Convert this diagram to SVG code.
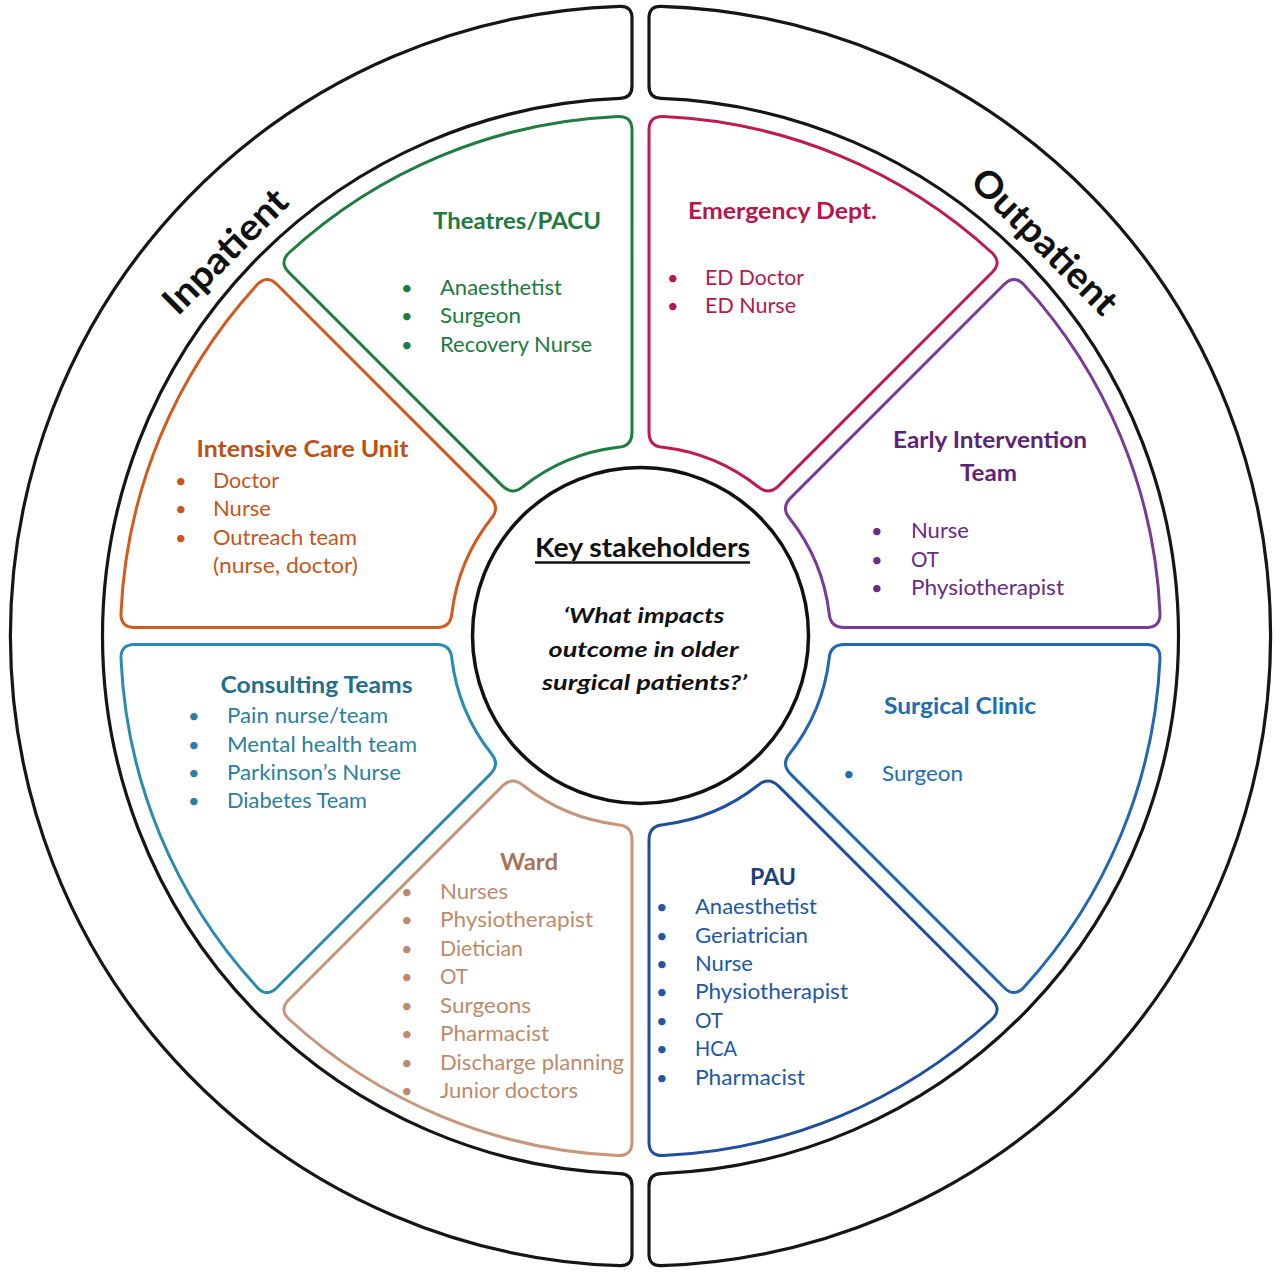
<svg xmlns="http://www.w3.org/2000/svg" xmlns:xlink="http://www.w3.org/1999/xlink" width="1280" height="1279" viewBox="0 0 1280 1279">
<style>
  text { font-family: Lato, "Liberation Sans", sans-serif; }
  .seg { fill: none; stroke-width: 3; stroke-linejoin: round; }
  .ring { fill: none; stroke: #161616; stroke-width: 3.2; }
  .ttl { font-weight: bold; font-size: 22px; text-anchor: middle; }
  .itm { font-size: 22px; }
  .bul { font-size: 20px; }
  .side { font-weight: bold; font-size: 37px; text-anchor: middle; fill: #111; }
  .key { font-weight: bold; font-size: 26px; text-anchor: middle; fill: #111; }
  .q { font-weight: bold; font-style: italic; font-size: 21.5px; text-anchor: middle; fill: #111; }
</style>
<defs>
  <path id="segshape" d="M 8.5 -505.93 Q 8.5 -519.93 22.50 -519.51 A 520 520 0 0 1 351.44 -383.26 Q 361.64 -373.66 351.74 -363.76 L 138.10 -150.13 Q 128.20 -140.23 117.53 -149.28 A 190 190 0 0 0 22.45 -188.67 Q 8.5 -189.81 8.5 -203.81 Z"/>
  <path id="halfring" d="M 8.5 -617.94 Q 8.5 -629.94 20.49 -629.67 A 630 630 0 0 1 20.49 629.67 Q 8.5 629.94 8.5 617.94 L 8.5 549.93 Q 8.5 537.93 20.49 537.61 A 538 538 0 0 0 20.49 -537.61 Q 8.5 -537.93 8.5 -549.93 Z"/>
</defs>

<g id="outer-ring">
  <g id="inpatient">
    <use xlink:href="#halfring" class="ring" transform="translate(640.5 636) rotate(180)"/>
    <text class="side" transform="translate(640.5 636) rotate(-45)" x="-21.6" y="-553" textLength="160" lengthAdjust="spacingAndGlyphs">Inpatient</text>
  </g>
  <g id="outpatient">
    <use xlink:href="#halfring" class="ring" transform="translate(640.5 636)"/>
    <text class="side" transform="translate(640.5 636) rotate(45)" x="6.7" y="-552" textLength="190" lengthAdjust="spacingAndGlyphs">Outpatient</text>
  </g>
</g>

<g id="connectors"></g>

<g id="theatres" fill="#1e7a3f">
  <use xlink:href="#segshape" class="seg" stroke="#1f7d40" transform="translate(640.5 636) rotate(315)"/>
  <text class="ttl" x="517" y="229" textLength="168" lengthAdjust="spacingAndGlyphs">Theatres/PACU</text>
  <text class="bul" x="401" y="295">•</text><text class="itm" x="440" y="295" textLength="122" lengthAdjust="spacingAndGlyphs">Anaesthetist</text>
  <text class="bul" x="401" y="323">•</text><text class="itm" x="440" y="323" textLength="81" lengthAdjust="spacingAndGlyphs">Surgeon</text>
  <text class="bul" x="401" y="352">•</text><text class="itm" x="440" y="352" textLength="152" lengthAdjust="spacingAndGlyphs">Recovery Nurse</text>
</g>

<g id="emergency" fill="#b3174d">
  <use xlink:href="#segshape" class="seg" stroke="#be1c50" transform="translate(640.5 636)"/>
  <text class="ttl" x="782.5" y="219" textLength="189" lengthAdjust="spacingAndGlyphs">Emergency Dept.</text>
  <text class="bul" x="667" y="285">•</text><text class="itm" x="705" y="285" textLength="99" lengthAdjust="spacingAndGlyphs">ED Doctor</text>
  <text class="bul" x="667" y="313">•</text><text class="itm" x="705" y="313" textLength="91" lengthAdjust="spacingAndGlyphs">ED Nurse</text>
</g>

<g id="early-intervention" fill="#6a2a85">
  <use xlink:href="#segshape" class="seg" stroke="#7a3b98" transform="translate(640.5 636) rotate(45)"/>
  <text class="ttl" x="990" y="448" fill="#5e2377" textLength="194" lengthAdjust="spacingAndGlyphs">Early Intervention</text>
  <text class="ttl" x="988.5" y="481" fill="#5e2377" textLength="57" lengthAdjust="spacingAndGlyphs">Team</text>
  <text class="bul" x="871" y="538">•</text><text class="itm" x="911" y="538" textLength="58" lengthAdjust="spacingAndGlyphs">Nurse</text>
  <text class="bul" x="871" y="567">•</text><text class="itm" x="911" y="567" textLength="28" lengthAdjust="spacingAndGlyphs">OT</text>
  <text class="bul" x="871" y="595">•</text><text class="itm" x="911" y="595" textLength="153" lengthAdjust="spacingAndGlyphs">Physiotherapist</text>
</g>

<g id="surgical-clinic" fill="#1f6cb0">
  <use xlink:href="#segshape" class="seg" stroke="#2068b2" transform="translate(640.5 636) rotate(90)"/>
  <text class="ttl" x="960" y="714" textLength="152" lengthAdjust="spacingAndGlyphs">Surgical Clinic</text>
  <text class="bul" x="843" y="781">•</text><text class="itm" x="882" y="781" textLength="81" lengthAdjust="spacingAndGlyphs">Surgeon</text>
</g>

<g id="pau" fill="#2257a5">
  <use xlink:href="#segshape" class="seg" stroke="#1f4f9c" transform="translate(640.5 636) rotate(135)"/>
  <text class="ttl" x="773" y="885" fill="#1a3f7d" textLength="46" lengthAdjust="spacingAndGlyphs">PAU</text>
  <text class="bul" x="656" y="914">•</text><text class="itm" x="695" y="914" textLength="122" lengthAdjust="spacingAndGlyphs">Anaesthetist</text>
  <text class="bul" x="656" y="942.5">•</text><text class="itm" x="695" y="942.5" textLength="113" lengthAdjust="spacingAndGlyphs">Geriatrician</text>
  <text class="bul" x="656" y="971">•</text><text class="itm" x="695" y="971" textLength="58" lengthAdjust="spacingAndGlyphs">Nurse</text>
  <text class="bul" x="656" y="999">•</text><text class="itm" x="695" y="999" textLength="153" lengthAdjust="spacingAndGlyphs">Physiotherapist</text>
  <text class="bul" x="656" y="1027.5">•</text><text class="itm" x="695" y="1027.5" textLength="28" lengthAdjust="spacingAndGlyphs">OT</text>
  <text class="bul" x="656" y="1056">•</text><text class="itm" x="695" y="1056" textLength="42" lengthAdjust="spacingAndGlyphs">HCA</text>
  <text class="bul" x="656" y="1084.5">•</text><text class="itm" x="695" y="1084.5" textLength="110" lengthAdjust="spacingAndGlyphs">Pharmacist</text>
</g>

<g id="ward" fill="#bd8a6c">
  <use xlink:href="#segshape" class="seg" stroke="#c6957a" transform="translate(640.5 636) rotate(180)"/>
  <text class="ttl" x="529" y="870" fill="#a8735a" textLength="58" lengthAdjust="spacingAndGlyphs">Ward</text>
  <text class="bul" x="401" y="899">•</text><text class="itm" x="440" y="899" textLength="68" lengthAdjust="spacingAndGlyphs">Nurses</text>
  <text class="bul" x="401" y="927">•</text><text class="itm" x="440" y="927" textLength="153" lengthAdjust="spacingAndGlyphs">Physiotherapist</text>
  <text class="bul" x="401" y="956">•</text><text class="itm" x="440" y="956" textLength="83" lengthAdjust="spacingAndGlyphs">Dietician</text>
  <text class="bul" x="401" y="984">•</text><text class="itm" x="440" y="984" textLength="28" lengthAdjust="spacingAndGlyphs">OT</text>
  <text class="bul" x="401" y="1013">•</text><text class="itm" x="440" y="1013" textLength="91" lengthAdjust="spacingAndGlyphs">Surgeons</text>
  <text class="bul" x="401" y="1041">•</text><text class="itm" x="440" y="1041" textLength="109" lengthAdjust="spacingAndGlyphs">Pharmacist</text>
  <text class="bul" x="401" y="1070">•</text><text class="itm" x="440" y="1070" textLength="184" lengthAdjust="spacingAndGlyphs">Discharge planning</text>
  <text class="bul" x="401" y="1098">•</text><text class="itm" x="440" y="1098" textLength="138" lengthAdjust="spacingAndGlyphs">Junior doctors</text>
</g>

<g id="consulting-teams" fill="#2a809f">
  <use xlink:href="#segshape" class="seg" stroke="#2a8bb1" transform="translate(640.5 636) rotate(225)"/>
  <text class="ttl" x="316.5" y="693" fill="#1f6f8f" textLength="192" lengthAdjust="spacingAndGlyphs">Consulting Teams</text>
  <text class="bul" x="188" y="723">•</text><text class="itm" x="227" y="723" textLength="161" lengthAdjust="spacingAndGlyphs">Pain nurse/team</text>
  <text class="bul" x="188" y="752">•</text><text class="itm" x="227" y="752" textLength="190" lengthAdjust="spacingAndGlyphs">Mental health team</text>
  <text class="bul" x="188" y="780">•</text><text class="itm" x="227" y="780" textLength="174" lengthAdjust="spacingAndGlyphs">Parkinson’s Nurse</text>
  <text class="bul" x="188" y="808">•</text><text class="itm" x="227" y="808" textLength="140" lengthAdjust="spacingAndGlyphs">Diabetes Team</text>
</g>

<g id="icu" fill="#c5561b">
  <use xlink:href="#segshape" class="seg" stroke="#d35a1c" transform="translate(640.5 636) rotate(270)"/>
  <text class="ttl" x="302.5" y="457" fill="#c04f15" textLength="212" lengthAdjust="spacingAndGlyphs">Intensive Care Unit</text>
  <text class="bul" x="175" y="488">•</text><text class="itm" x="213" y="488" textLength="66" lengthAdjust="spacingAndGlyphs">Doctor</text>
  <text class="bul" x="175" y="516">•</text><text class="itm" x="213" y="516" textLength="58" lengthAdjust="spacingAndGlyphs">Nurse</text>
  <text class="bul" x="175" y="545">•</text><text class="itm" x="213" y="545" textLength="144" lengthAdjust="spacingAndGlyphs">Outreach team</text>
  <text class="itm" x="213" y="573" textLength="145" lengthAdjust="spacingAndGlyphs">(nurse, doctor)</text>
</g>

<g id="key-stakeholders">
  <circle cx="640.5" cy="635.5" r="168" fill="#fff" stroke="#111" stroke-width="3.5"/>
  <text class="key" x="642.5" y="557" textLength="215" lengthAdjust="spacingAndGlyphs">Key stakeholders</text>
  <line x1="535" y1="562.5" x2="750" y2="562.5" stroke="#111" stroke-width="2.4"/>
  <text class="q" x="644" y="623" textLength="161" lengthAdjust="spacingAndGlyphs">‘What impacts</text>
  <text class="q" x="643.5" y="657" textLength="190" lengthAdjust="spacingAndGlyphs">outcome in older</text>
  <text class="q" x="644.5" y="690" textLength="205" lengthAdjust="spacingAndGlyphs">surgical patients?’</text>
</g>
</svg>
